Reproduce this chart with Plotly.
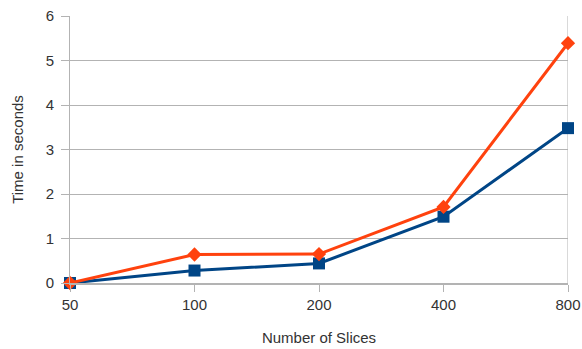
import plotly.graph_objects as go

categories = ["50", "100", "200", "400", "800"]
series_blue = [0.0, 0.28, 0.44, 1.49, 3.48]
series_orange = [0.0, 0.64, 0.65, 1.71, 5.39]
y_ticks = [0, 1, 2, 3, 4, 5, 6]

fig = go.Figure()
fig.add_trace(go.Scatter(
    x=list(range(len(categories))), y=series_blue, mode="lines+markers",
    line=dict(color="#004586", width=3),
    marker=dict(symbol="square", size=12, color="#004586"),
    showlegend=False))
fig.add_trace(go.Scatter(
    x=list(range(len(categories))), y=series_orange, mode="lines+markers",
    line=dict(color="#ff420e", width=3),
    marker=dict(symbol="diamond", size=11, color="#ff420e"),
    showlegend=False))

fig.update_layout(
    width=582, height=349,
    margin=dict(l=70, r=14, t=16, b=66, autoexpand=False),
    paper_bgcolor="white", plot_bgcolor="white",
    font=dict(family="Liberation Sans, Arial, sans-serif", size=15, color="#333333"),
    xaxis=dict(
        tickmode="array", tickvals=list(range(len(categories))), ticktext=categories,
        range=[0, 4], showgrid=False, zeroline=False,
        showline=True, linecolor="#b3b3b3", linewidth=2, mirror=False,
        ticks="outside", ticklen=7, tickcolor="#b3b3b3", tickwidth=1,
        automargin=False,
        title=dict(text="Number of Slices", standoff=20, font=dict(size=15)),
    ),
    yaxis=dict(
        range=[0, 6], tickvals=y_ticks, showgrid=True, gridcolor="#b3b3b3", gridwidth=1,
        zeroline=False, showline=True, linecolor="#b3b3b3", linewidth=1,
        ticks="outside", ticklen=8, tickcolor="#b3b3b3", automargin=False,
        ticklabelstandoff=4,
        title=dict(text="Time in seconds", standoff=18, font=dict(size=15)),
    ),
)
fig.add_shape(type="line", xref="x", yref="paper", x0=4, x1=4, y0=0, y1=1,
              line=dict(color="#b3b3b3", width=1), layer="below")
fig.update_traces(cliponaxis=False)
fig.write_html("out.html", config={"displayModeBar": False},
               post_script="document.body.style.margin='0';document.body.style.overflow='hidden';")
